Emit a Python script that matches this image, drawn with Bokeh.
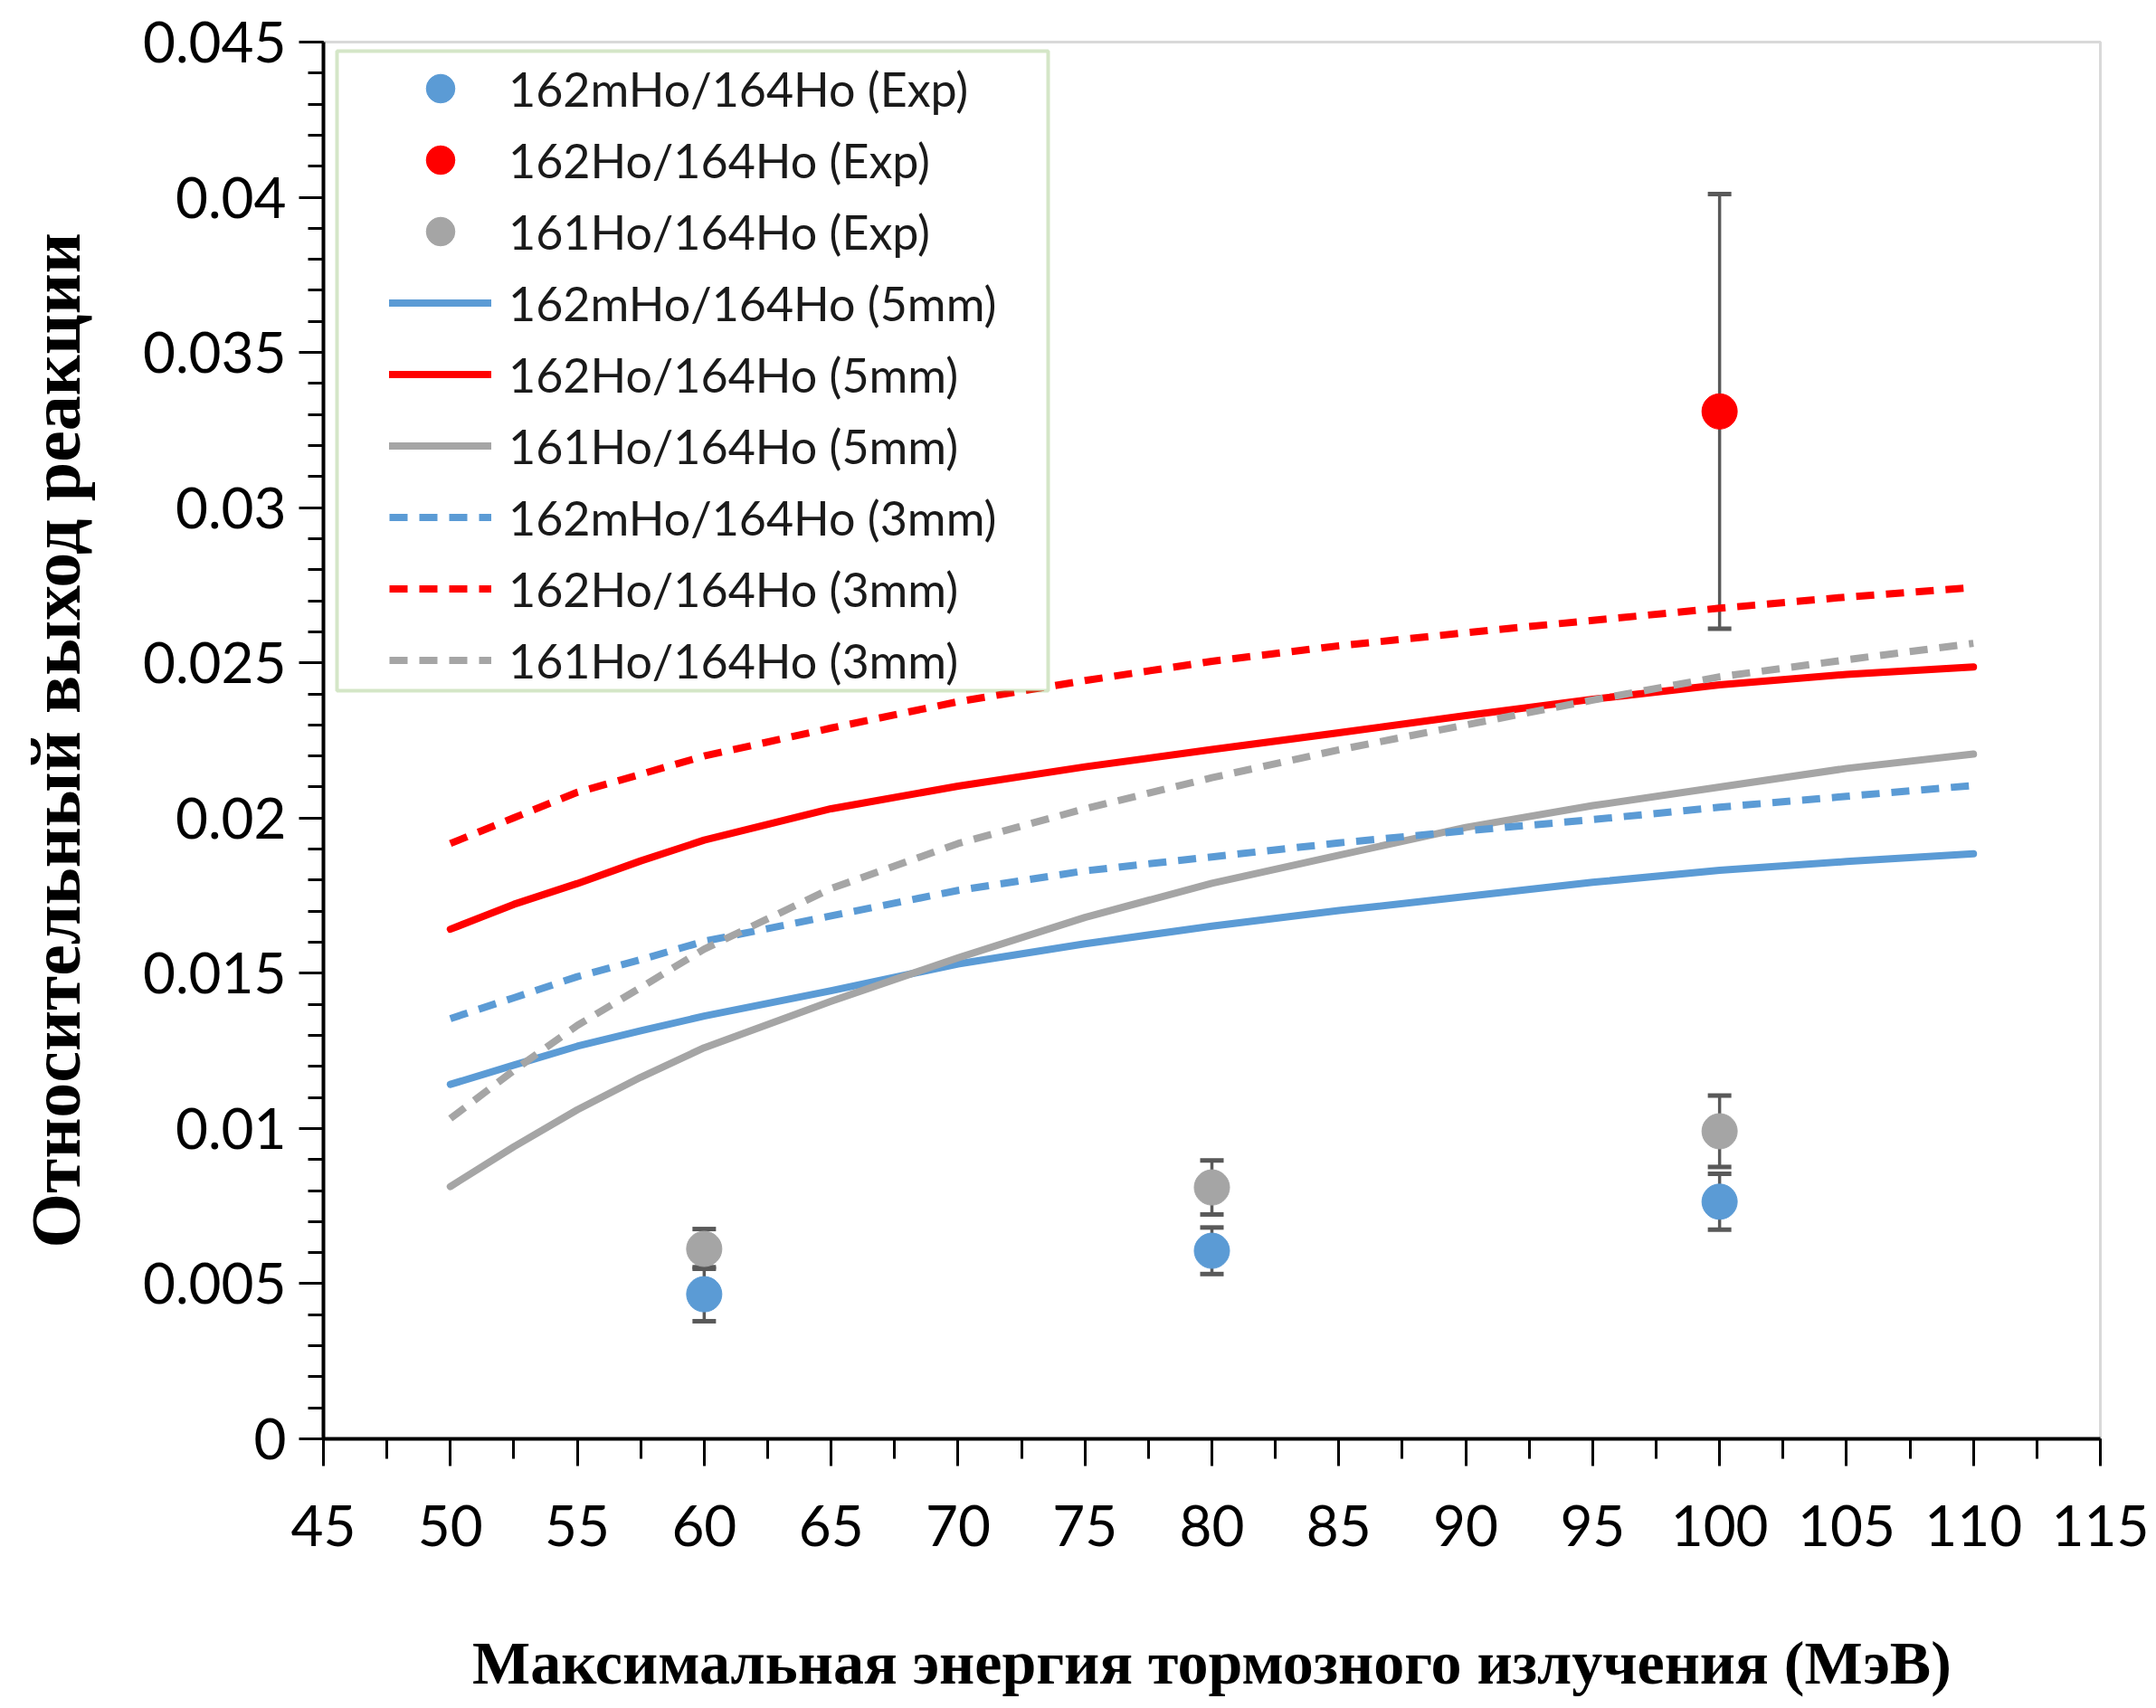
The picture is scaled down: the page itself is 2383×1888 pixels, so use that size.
from bokeh.plotting import figure
from bokeh.models import (Range1d, FixedTicker, Whisker, TeeHead, ColumnDataSource,
                          Legend, LegendItem, BoxAnnotation)
from bokeh.embed import file_html
from bokeh.resources import INLINE

# ---------------- data ----------------
energy = [50, 52.5, 55, 57.5, 60, 65, 70, 75, 80, 85, 90, 95, 100, 105, 110]

ho162m_5mm = [0.01142, 0.01204, 0.01265, 0.01315, 0.01362, 0.01444, 0.01530, 0.01595,
              0.01652, 0.01702, 0.01747, 0.01793, 0.01832, 0.01860, 0.01885]
ho162_5mm = [0.01642, 0.01722, 0.01789, 0.01862, 0.01929, 0.02030, 0.02103, 0.02165,
             0.02221, 0.02275, 0.02330, 0.02383, 0.02429, 0.02463, 0.02487]
ho161_5mm = [0.00813, 0.00941, 0.01060, 0.01165, 0.01260, 0.01410, 0.01550, 0.01680,
             0.01790, 0.01880, 0.01970, 0.02040, 0.02100, 0.02160, 0.02206]
ho162m_3mm = [0.01354, 0.01421, 0.01489, 0.01544, 0.01603, 0.01685, 0.01767, 0.01830,
              0.01875, 0.01920, 0.01959, 0.01995, 0.02035, 0.02070, 0.02105]
ho162_3mm = [0.01918, 0.02001, 0.02083, 0.02141, 0.02200, 0.02290, 0.02375, 0.02443,
             0.02505, 0.02555, 0.02597, 0.02637, 0.02676, 0.02712, 0.02743]
ho161_3mm = [0.01032, 0.01187, 0.01332, 0.01454, 0.01578, 0.01773, 0.01918, 0.02030,
             0.02130, 0.02220, 0.02300, 0.02380, 0.02455, 0.02510, 0.02563]

exp_energy = [60, 80, 100]
exp_162m = [0.00466, 0.00606, 0.00764]
exp_162m_err = [0.00087, 0.00075, 0.00090]
exp_161 = [0.00612, 0.00810, 0.00991]
exp_161_err = [0.00064, 0.00087, 0.00115]
exp162_energy = [100]
exp_162 = [0.0331]
exp_162_err = [0.0070]

x_ticks = [45, 50, 55, 60, 65, 70, 75, 80, 85, 90, 95, 100, 105, 110, 115]
x_tick_labels = ["45", "50", "55", "60", "65", "70", "75", "80", "85", "90",
                 "95", "100", "105", "110", "115"]
y_ticks = [0.0, 0.005, 0.01, 0.015, 0.02, 0.025, 0.03, 0.035, 0.04, 0.045]
y_tick_labels = ["0", "0.005", "0.01", "0.015", "0.02", "0.025", "0.03",
                 "0.035", "0.04", "0.045"]

labels = ["162mHo/164Ho (Exp)", "162Ho/164Ho (Exp)", "161Ho/164Ho (Exp)",
          "162mHo/164Ho (5mm)", "162Ho/164Ho (5mm)", "161Ho/164Ho (5mm)",
          "162mHo/164Ho (3mm)", "162Ho/164Ho (3mm)", "161Ho/164Ho (3mm)"]

BLUE = "#5B9BD5"
RED = "#FF0000"
GRAY = "#A5A5A5"
ERR = "#595959"
SANS = "Lato"

# ---------------- figure ----------------
p = figure(width=2383, height=1888, output_backend="svg", toolbar_location=None,
           x_range=Range1d(45, 115), y_range=Range1d(0, 0.045),
           min_border_left=357, min_border_right=62, min_border_top=46,
           min_border_bottom=298)
p.xgrid.visible = False
p.ygrid.visible = False
p.outline_line_color = "#D9D9D9"
p.outline_line_width = 3
p.background_fill_color = "white"

x_minor = [45 + 2.5 * i for i in range(29)]
y_minor = [0.001 * i for i in range(46)]
p.xaxis.ticker = FixedTicker(ticks=x_ticks, minor_ticks=x_minor)
p.yaxis.ticker = FixedTicker(ticks=y_ticks, minor_ticks=y_minor)
p.xaxis.major_label_overrides = dict(zip(x_ticks, x_tick_labels))
p.yaxis.major_label_overrides = dict(zip(y_ticks, y_tick_labels))

for ax in (p.xaxis, p.yaxis):
    ax.axis_line_color = "black"
    ax.axis_line_width = 4
    ax.major_tick_line_color = "black"
    ax.major_tick_line_width = 3
    ax.minor_tick_line_color = "black"
    ax.minor_tick_line_width = 3
    ax.major_tick_in = 0
    ax.minor_tick_in = 0
    ax.major_label_text_font = SANS
    ax.major_label_text_font_size = "62px"
    ax.major_label_text_color = "black"
    ax.axis_label_text_font = "Liberation Serif"
    ax.axis_label_text_font_style = "bold"
    ax.axis_label_text_color = "black"

p.xaxis.major_tick_out = 30
p.xaxis.minor_tick_out = 22
p.xaxis.major_label_standoff = 43
p.xaxis.axis_label = "Максимальная энергия тормозного излучения (МэВ)"
p.xaxis.axis_label_text_font_size = "68px"
p.xaxis.axis_label_standoff = 88

p.yaxis.major_tick_out = 27
p.yaxis.minor_tick_out = 17
p.yaxis.major_label_standoff = 14
p.yaxis.axis_label = "Относительный выход реакции"
p.yaxis.axis_label_text_font_size = "78px"
p.yaxis.axis_label_standoff = 50

# ---------------- curves ----------------
LW = 8
DASH = "20 13"
r_b5 = p.line(energy, ho162m_5mm, line_color=BLUE, line_width=LW, line_cap="round", line_join="round")
r_r5 = p.line(energy, ho162_5mm, line_color=RED, line_width=LW, line_cap="round", line_join="round")
r_g5 = p.line(energy, ho161_5mm, line_color=GRAY, line_width=LW, line_cap="round", line_join="round")
r_b3 = p.line(energy, ho162m_3mm, line_color=BLUE, line_width=LW, line_dash=DASH, line_join="round")
r_r3 = p.line(energy, ho162_3mm, line_color=RED, line_width=LW, line_dash=DASH, line_join="round")
r_g3 = p.line(energy, ho161_3mm, line_color=GRAY, line_width=LW, line_dash=DASH, line_join="round")

# ---------------- experimental points ----------------
def add_exp(xs, ys, errs, color):
    src = ColumnDataSource(dict(x=xs, y=ys,
                                lo=[y - e for y, e in zip(ys, errs)],
                                hi=[y + e for y, e in zip(ys, errs)]))
    w = Whisker(source=src, base="x", lower="lo", upper="hi",
                line_color=ERR, line_width=3.5,
                upper_head=TeeHead(size=26, line_color=ERR, line_width=5),
                lower_head=TeeHead(size=26, line_color=ERR, line_width=5))
    p.add_layout(w)
    return p.scatter("x", "y", source=src, size=39, fill_color=color,
                     line_color=color, line_width=1)

r_eb = add_exp(exp_energy, exp_162m, exp_162m_err, BLUE)
r_eg = add_exp(exp_energy, exp_161, exp_161_err, GRAY)
r_er = add_exp(exp162_energy, exp_162, exp_162_err, RED)

# ---------------- legend ----------------
box = BoxAnnotation(left=15, right=801, top=1534, bottom=827,
                    left_units="screen", right_units="screen",
                    top_units="screen", bottom_units="screen",
                    fill_color="white", fill_alpha=1.0,
                    line_color="#70AD47", line_width=4)
p.add_layout(box)

renderers = [r_eb, r_er, r_eg, r_b5, r_r5, r_g5, r_b3, r_r3, r_g3]
legend = Legend(items=[LegendItem(label=l, renderers=[r]) for l, r in zip(labels, renderers)],
                location=(73, 821), padding=0, margin=0, spacing=0,
                glyph_width=113, glyph_height=79, label_height=79,
                label_standoff=19, label_text_font=SANS,
                label_text_font_size="52px", label_text_color="#1a1a1a",
                border_line_alpha=0, background_fill_alpha=0)
p.add_layout(legend)

open("out.html", "w").write(file_html(p, INLINE))
